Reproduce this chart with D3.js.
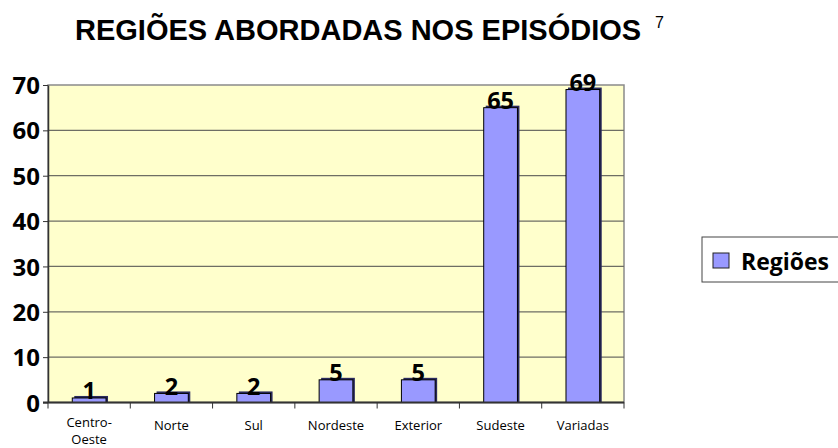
<!DOCTYPE html>
<html>
<head>
<meta charset="utf-8">
<script src="https://cdn.jsdelivr.net/npm/d3@7"></script>
<style>
  body { margin: 0; background: #fff; }
  svg { display: block; }
</style>
</head>
<body>
<script>
// DATA
const categories = ["Centro-Oeste", "Norte", "Sul", "Nordeste", "Exterior", "Sudeste", "Variadas"]
const catLines = [["Centro-", "Oeste"], ["Norte"], ["Sul"], ["Nordeste"], ["Exterior"], ["Sudeste"], ["Variadas"]]
const values = [1, 2, 2, 5, 5, 65, 69]
const yTicks = [0, 10, 20, 30, 40, 50, 60, 70]
const seriesName = "Regiões"

// SIZES
const svgwidth = 838, svgheight = 448
const plot = { left: 48, right: 624, top: 85, bottom: 402.5 }

const svg = d3.select("body").append("svg")
  .attr("width", svgwidth).attr("height", svgheight)

// TITLE
svg.append("text")
  .attr("x", 75).attr("y", 40)
  .style("font-family", "'Liberation Sans', Arial, sans-serif")
  .style("font-weight", "bold").style("font-size", "29px")
  .text("REGIÕES ABORDADAS NOS EPISÓDIOS")
svg.append("text")
  .attr("x", 655).attr("y", 28)
  .style("font-family", "'Liberation Sans', Arial, sans-serif")
  .style("font-size", "16px")
  .text("7")

// SCALES
const X = d3.scaleBand().domain(categories).range([plot.left, plot.right])
const Y = d3.scaleLinear().domain([0, 70]).range([plot.bottom, plot.top])

// PLOT BACKGROUND
svg.append("rect")
  .attr("x", plot.left).attr("y", plot.top)
  .attr("width", plot.right - plot.left).attr("height", plot.bottom - plot.top)
  .attr("fill", "#ffffcc").attr("stroke", "#8a8a8a").attr("stroke-width", 1.5)

// GRID
svg.selectAll(".grid").data(yTicks.filter(d => d > 0 && d < 70))
  .enter().append("line").classed("grid", true)
  .attr("x1", plot.left).attr("x2", plot.right)
  .attr("y1", d => Y(d)).attr("y2", d => Y(d))
  .attr("stroke", "#6e6e64").attr("stroke-width", 1.2)

// Y AXIS
const yAxis = svg.append("g")
  .attr("transform", `translate(${plot.left},0)`)
  .call(d3.axisLeft(Y).tickValues(yTicks).tickSize(5).tickSizeOuter(0).tickPadding(3))
yAxis.select(".domain").attr("stroke", "#333").attr("stroke-width", 1.5)
yAxis.selectAll(".tick line").attr("stroke", "#333")
yAxis.selectAll("text")
  .style("font-family", "'Open Sans', sans-serif")
  .style("font-weight", "bold").style("font-size", "24px")
  .attr("fill", "#000").attr("dy", "0.36em")

// BARS
const bw = X.bandwidth() * 0.41
const bx = c => X(c) + (X.bandwidth() - bw) / 2
const bars = svg.append("g")
bars.selectAll(".shadow").data(values).enter().append("rect").classed("shadow", true)
  .attr("x", (d, i) => bx(categories[i]) + 2)
  .attr("y", d => Y(d) - 2)
  .attr("width", bw)
  .attr("height", d => plot.bottom - Y(d) + 2)
  .attr("fill", "#2b2b5e")
bars.selectAll(".bar").data(values).enter().append("rect").classed("bar", true)
  .attr("x", (d, i) => bx(categories[i]))
  .attr("y", d => Y(d))
  .attr("width", bw)
  .attr("height", d => plot.bottom - Y(d))
  .attr("fill", "#9999ff").attr("stroke", "#000").attr("stroke-width", 1)

// X AXIS
const xAxis = svg.append("g")
  .attr("transform", `translate(0,${plot.bottom})`)
xAxis.append("line")
  .attr("x1", plot.left - 5).attr("x2", plot.right)
  .attr("stroke", "#333").attr("stroke-width", 2)
xAxis.selectAll(".xtick").data(categories.concat(["end"]))
  .enter().append("line").classed("xtick", true)
  .attr("x1", (d, i) => i < categories.length ? X(d) : plot.right)
  .attr("x2", (d, i) => i < categories.length ? X(d) : plot.right)
  .attr("y1", 0).attr("y2", 6)
  .attr("stroke", "#333")
const xl = xAxis.selectAll(".xlabel").data(catLines)
  .enter().append("text").classed("xlabel", true)
  .attr("text-anchor", "middle")
  .style("font-family", "'Open Sans', sans-serif")
  .style("font-size", "13px")
  .attr("fill", "#000")
// two-line label sits a little higher so both lines fit
xl.selectAll("tspan").data((d, i) => d.map(t => ({ t: t, c: categories[i], n: d.length })))
  .enter().append("tspan")
  .attr("x", d => X(d.c) + X.bandwidth() / 2)
  .attr("y", (d, j) => d.n > 1 ? 24 + j * 17.5 : 27.5)
  .text(d => d.t)

// VALUE LABELS
svg.selectAll(".val").data(values).enter().append("text").classed("val", true)
  .attr("x", (d, i) => X(categories[i]) + X.bandwidth() / 2)
  .attr("y", d => Y(d) + 1.5)
  .attr("text-anchor", "middle")
  .style("font-family", "'Open Sans', sans-serif")
  .style("font-weight", "bold").style("font-size", "23.5px")
  .text(d => d)

// LEGEND
const legend = svg.append("g")
legend.append("rect")
  .attr("x", 702).attr("y", 237).attr("width", 150).attr("height", 45)
  .attr("fill", "#fff").attr("stroke", "#444").attr("stroke-width", 1)
legend.append("rect")
  .attr("x", 713).attr("y", 253).attr("width", 16).attr("height", 15)
  .attr("fill", "#9999ff").attr("stroke", "#222")
legend.append("text")
  .attr("x", 741).attr("y", 270)
  .style("font-family", "'Open Sans', sans-serif")
  .style("font-weight", "bold").style("font-size", "23px")
  .text(seriesName)
</script>
</body>
</html>
